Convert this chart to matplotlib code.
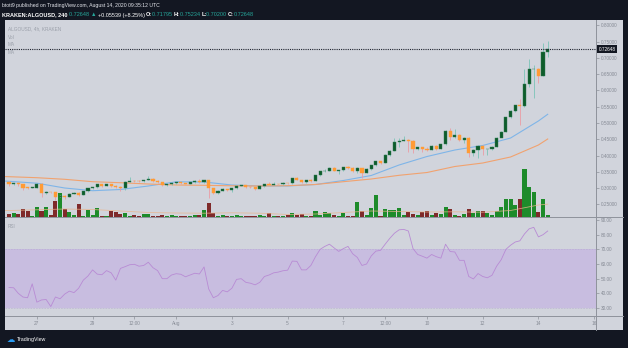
import numpy as np
import pandas as pd
import matplotlib
matplotlib.use("Agg")
import matplotlib.pyplot as plt
import matplotlib.dates as mdates
from matplotlib.patches import Rectangle
from matplotlib.lines import Line2D

plt.rcParams['font.family'] = ['Liberation Sans', 'DejaVu Sans']

# KRAKEN:ALGOUSD, 4h bars from 26 Jul 2020 00:00 UTC
bar_start = '2020-07-26 00:00'
first_open = 0.3185
closes = [0.3108, 0.3154, 0.3123, 0.3015, 0.3006, 0.3015, 0.3138, 0.2846, 0.2877, 0.2868,
          0.2723, 0.2769, 0.2738, 0.2831, 0.2846, 0.2800, 0.2908, 0.2985, 0.3031, 0.3108,
          0.3077, 0.3123, 0.3077, 0.3046, 0.2985, 0.3200, 0.3221, 0.3215, 0.3206, 0.3246,
          0.3292, 0.3224, 0.3185, 0.3092, 0.3108, 0.3163, 0.3175, 0.3144, 0.3138, 0.3185,
          0.3209, 0.3175, 0.3246, 0.2991, 0.2846, 0.2923, 0.2960, 0.2929, 0.2991, 0.3071,
          0.3083, 0.3040, 0.3021, 0.2978, 0.3055, 0.3123, 0.3104, 0.3123, 0.3108, 0.3163,
          0.3144, 0.3308, 0.3246, 0.3185, 0.3237, 0.3224, 0.3400, 0.3523, 0.3538, 0.3621,
          0.3538, 0.3554, 0.3637, 0.3606, 0.3532, 0.3606, 0.3470, 0.3594, 0.3708, 0.3831,
          0.3775, 0.4015, 0.4148, 0.4425, 0.4446, 0.4477, 0.4446, 0.4185, 0.4262, 0.4215,
          0.4169, 0.4292, 0.4200, 0.4345, 0.4763, 0.4579, 0.4631, 0.4477, 0.4538, 0.4086,
          0.4169, 0.4292, 0.4191, 0.4200, 0.4271, 0.4529, 0.4723, 0.5176, 0.5369, 0.5545,
          0.5529, 0.6200, 0.6662, 0.6671, 0.6446, 0.71795, 0.72648]
highs = [0.3215, 0.3169, 0.3185, 0.3138, 0.3031, 0.3031, 0.3154, 0.3154, 0.2908, 0.2892,
         0.2892, 0.2800, 0.2785, 0.2846, 0.2862, 0.2862, 0.2923, 0.3000, 0.3046, 0.3123,
         0.3138, 0.3138, 0.3138, 0.3092, 0.3062, 0.3215, 0.3348, 0.3246, 0.3231, 0.3261,
         0.3378, 0.3308, 0.3246, 0.3200, 0.3138, 0.3185, 0.3200, 0.3200, 0.3169, 0.3200,
         0.3231, 0.3268, 0.3261, 0.3261, 0.3000, 0.2938, 0.2985, 0.2969, 0.3000, 0.3083,
         0.3098, 0.3092, 0.3055, 0.3037, 0.3062, 0.3138, 0.3194, 0.3185, 0.3138, 0.3178,
         0.3169, 0.3323, 0.3348, 0.3246, 0.3246, 0.3277, 0.3415, 0.3538, 0.3594, 0.3655,
         0.3637, 0.3569, 0.3661, 0.3677, 0.3631, 0.3655, 0.3625, 0.3606, 0.3723, 0.3846,
         0.3846, 0.4031, 0.4169, 0.4529, 0.4548, 0.4609, 0.4508, 0.4477, 0.4277, 0.4277,
         0.4277, 0.4308, 0.4323, 0.4369, 0.4785, 0.4837, 0.4825, 0.4677, 0.4569, 0.4560,
         0.4185, 0.4323, 0.4308, 0.4215, 0.4292, 0.4554, 0.4754, 0.5200, 0.5400, 0.5569,
         0.5729, 0.6652, 0.6969, 0.6785, 0.6692, 0.7460, 0.75234]
lows = [0.3062, 0.3092, 0.3062, 0.2938, 0.2969, 0.2985, 0.3000, 0.2723, 0.2831, 0.2846,
        0.2631, 0.2708, 0.2677, 0.2723, 0.2815, 0.2754, 0.2785, 0.2892, 0.2969, 0.3015,
        0.3046, 0.3062, 0.3046, 0.3015, 0.2923, 0.2954, 0.3185, 0.3185, 0.3185, 0.3185,
        0.3231, 0.3200, 0.3154, 0.3062, 0.3077, 0.3092, 0.3138, 0.3123, 0.3108, 0.3123,
        0.3154, 0.3160, 0.3154, 0.2683, 0.2815, 0.2831, 0.2914, 0.2908, 0.2892, 0.2975,
        0.3052, 0.3015, 0.3000, 0.2954, 0.2969, 0.3037, 0.3092, 0.3092, 0.3083, 0.3098,
        0.3123, 0.3129, 0.3231, 0.3169, 0.3169, 0.3200, 0.3215, 0.3384, 0.3507, 0.3525,
        0.3523, 0.3431, 0.3538, 0.3584, 0.3507, 0.3470, 0.3298, 0.3461, 0.3569, 0.3692,
        0.3754, 0.3769, 0.4000, 0.4138, 0.4271, 0.4431, 0.4117, 0.4068, 0.4169, 0.4123,
        0.4138, 0.4154, 0.4169, 0.4185, 0.4338, 0.4477, 0.4529, 0.4446, 0.4385, 0.3963,
        0.3985, 0.3914, 0.4015, 0.4015, 0.4154, 0.4262, 0.4585, 0.4723, 0.5145, 0.5339,
        0.4939, 0.5502, 0.6117, 0.5760, 0.6222, 0.6431, 0.70200]
# volume, millions ALGO
volumes = [0.30, 0.37, 0.35, 0.80, 0.63, 0.13, 0.97, 0.63, 1.03, 0.23,
           1.57, 2.37, 0.80, 0.53, 0.20, 1.30, 0.13, 0.70, 0.17, 0.87,
           0.07, 0.10, 0.63, 0.47, 0.30, 0.37, 0.13, 0.17, 0.10, 0.27,
           0.27, 0.13, 0.10, 0.20, 0.10, 0.23, 0.07, 0.08, 0.08, 0.10,
           0.23, 0.20, 0.70, 1.40, 0.40, 0.13, 0.17, 0.08, 0.13, 0.20,
           0.13, 0.08, 0.08, 0.08, 0.23, 0.10, 0.37, 0.10, 0.10, 0.12,
           0.20, 0.37, 0.17, 0.30, 0.13, 0.13, 0.57, 0.17, 0.47, 0.40,
           0.17, 0.10, 0.40, 0.10, 0.13, 1.50, 0.63, 0.17, 0.90, 2.20,
           0.10, 0.83, 0.70, 0.70, 0.90, 0.17, 0.47, 0.30, 0.17, 0.50,
           0.63, 0.17, 0.37, 0.30, 1.03, 0.77, 0.17, 0.10, 0.30, 0.80,
           0.37, 0.57, 0.57, 0.37, 0.20, 0.57, 0.97, 1.83, 1.83, 1.20,
           1.83, 4.83, 2.97, 2.47, 0.50, 1.77, 0.17]
rsi = [44.0, 43.8, 40.0, 37.5, 37.0, 46.5, 34.0, 35.5, 35.8, 31.0,
       37.5, 36.3, 39.5, 41.5, 40.5, 43.5, 49.0, 51.8, 56.0, 53.1,
       52.7, 55.5, 54.0, 49.0, 57.0, 58.2, 59.5, 59.8, 58.5, 59.0,
       61.2, 57.5, 55.5, 50.0, 50.0, 52.5, 53.4, 53.0, 51.3, 52.5,
       53.7, 53.2, 58.0, 43.0, 37.0, 38.5, 42.0, 41.0, 43.5, 49.5,
       50.0, 47.5, 46.9, 45.8, 47.5, 51.5, 52.5, 54.0, 54.5, 55.4,
       55.8, 62.0, 61.8, 56.0, 56.0, 59.0, 65.0, 70.0, 72.0, 73.5,
       71.0, 68.6, 70.5, 72.0, 67.0, 64.5, 59.0, 60.0, 65.5, 68.8,
       69.3, 73.5, 77.5, 81.0, 83.3, 83.6, 82.5, 70.5, 66.5, 65.3,
       64.0, 66.5, 65.0, 64.0, 73.5, 68.5, 68.2, 62.5, 62.5, 51.5,
       49.8, 53.5, 51.5, 50.6, 52.3, 58.5, 63.0, 70.0, 72.8, 75.0,
       75.8, 80.5, 84.0, 85.0, 78.5, 80.0, 82.5]

# moving averages, read once a day at 00:00 UTC (plus both chart edges)
ma_times = (['2020-07-25 20:00']
            + [d.strftime('%Y-%m-%d %H:%M') for d in pd.date_range('2020-07-26', '2020-08-14', freq='D')]
            + ['2020-08-14 08:00'])
ma_fast = [0.3215, 0.3206, 0.3148, 0.3000, 0.2917, 0.2954, 0.3062, 0.3191, 0.3185, 0.3092, 0.3062,
           0.3062, 0.3108, 0.3231, 0.3385, 0.3708, 0.3969, 0.4169, 0.4308, 0.4538, 0.5062, 0.5268]
ma_slow = [0.3352, 0.3348, 0.3317, 0.3268, 0.3194, 0.3163, 0.3123, 0.3092, 0.3083, 0.3068, 0.3062,
           0.3071, 0.3108, 0.3194, 0.3277, 0.3391, 0.3477, 0.3662, 0.3769, 0.3954, 0.4323, 0.4508]
vol_ma = [0.65, 0.65, 0.72, 0.80, 0.75, 0.60, 0.45, 0.40, 0.38, 0.42, 0.38,
          0.25, 0.30, 0.45, 0.60, 0.55, 0.50, 0.52, 0.48, 0.65, 1.20, 1.28]

last_price = 0.72648
price_ticks = [0.25, 0.30, 0.35, 0.40, 0.45, 0.50, 0.55, 0.60, 0.65, 0.70, 0.75, 0.80]
rsi_ticks = [30, 40, 50, 60, 70, 80, 90]
tick_times = ['2020-07-27 00:00', '2020-07-29 00:00', '2020-07-30 12:00', '2020-08-01 00:00',
              '2020-08-03 00:00', '2020-08-05 00:00', '2020-08-07 00:00', '2020-08-08 12:00',
              '2020-08-10 00:00', '2020-08-12 00:00', '2020-08-14 00:00', '2020-08-16 00:00']
tick_labels = ['27', '29', '12:00', 'Aug', '3', '5', '7', '12:00', '10', '12', '14', '16']

# colours
BG = '#131722'
PANEL = '#d1d4dc'
GRID = '#8e929b'
TXT = '#868b95'
UP_BODY, UP_WICK = '#0e5c2b', '#7cc4b8'
DN_BODY, DN_WICK = '#ff9b35', '#eb9ca4'
VOL_UP, VOL_DN = '#1d8b2a', '#7f2a2a'
TEAL = '#26a69a'

W, H = 628, 348
LBL = 3.4


def fx(px):
    return px / W


def fy(py):
    return 1 - py / H


def to_num(strings):
    return mdates.date2num(pd.to_datetime(strings, format='%Y-%m-%d %H:%M'))


fig = plt.figure(figsize=(W / 100, H / 100), dpi=100, facecolor=BG)
fig.patches.append(Rectangle((fx(5), fy(330)), fx(618), 310 / H, transform=fig.transFigure,
                             facecolor=PANEL, edgecolor='none', zorder=-5))
for ypx in (217, 316):
    fig.add_artist(Line2D([fx(5), fx(623)], [fy(ypx), fy(ypx)], color=GRID, lw=0.7, zorder=5))
fig.add_artist(Line2D([fx(596), fx(596)], [fy(20), fy(330)], color=GRID, lw=0.7, zorder=5))

times = pd.date_range(bar_start, periods=len(closes), freq='4h')
x = mdates.date2num(times)
o = np.r_[first_open, closes[:-1]]
c = np.array(closes)
up = c >= o
x0 = mdates.date2num(pd.Timestamp(bar_start))
xlim = (x0 - 0.86 / 6, x0 + 126.4 / 6)

main_rect = [fx(5), fy(217), fx(591), 197 / H]
ax_vol = fig.add_axes(main_rect, zorder=1)
ax = fig.add_axes(main_rect, zorder=2)
ax.patch.set_visible(False)
ax_vol.patch.set_visible(False)

# volume histogram + its MA at the bottom of the price pane
ax_vol.bar(x, volumes, width=0.145, color=np.where(up, VOL_UP, VOL_DN), linewidth=0)
ax_vol.plot(to_num(ma_times), vol_ma, color='#e9b48c', lw=0.6, alpha=0.8)
ax_vol.set_xlim(*xlim)
ax_vol.set_ylim(0, 19.7)
ax_vol.axis('off')

# candles
ax.vlines(x, lows, highs, colors=np.where(up, UP_WICK, DN_WICK), lw=0.6, zorder=2)
body_lo = np.minimum(o, c)
body_h = np.maximum(np.abs(c - o), 0.0012)
ax.bar(x, body_h, bottom=body_lo, width=0.113, color=np.where(up, UP_BODY, DN_BODY),
       edgecolor=np.where(up, '#2f7d55', DN_BODY), linewidth=0.3, zorder=3)

t_ma = to_num(ma_times)
ax.plot(t_ma, ma_fast, color='#7fb5e8', lw=0.8, zorder=1)
ax.plot(t_ma, ma_slow, color='#f1a26f', lw=0.8, zorder=1)
ax.axhline(last_price, color='#1e222d', lw=0.8, ls=(0, (1, 1)), zorder=4)

ax.set_xlim(*xlim)
ax.set_ylim(0.2108, 0.8169)
for s in ax.spines.values():
    s.set_visible(False)
ax.yaxis.tick_right()
ax.set_yticks(price_ticks)
ax.set_yticklabels([f'{v:.5f}' for v in price_ticks])
ax.tick_params(axis='y', length=2, width=0.5, color=GRID, pad=1.2, labelsize=LBL, labelcolor=TXT)
ax.tick_params(axis='x', bottom=False, labelbottom=False)
ax.annotate(f'{last_price:.5f}', xy=(1.0, last_price), xycoords=('axes fraction', 'data'),
            xytext=(2.0, 0), textcoords='offset points', va='center', ha='left',
            fontsize=LBL, color='white',
            bbox=dict(boxstyle='square,pad=0.3', fc=BG, ec='none'), annotation_clip=False)

# RSI pane
ax_rsi = fig.add_axes([fx(5), fy(316), fx(591), 99 / H], zorder=1)
ax_rsi.patch.set_visible(False)
ax_rsi.axhspan(30, 70, color='#c8bde0', lw=0)
for lvl in (30, 70):
    ax_rsi.axhline(lvl, color='#b7abd2', lw=0.4, ls=(0, (3, 2)))
ax_rsi.plot(x, rsi, color='#b88bd4', lw=0.6)
ax_rsi.set_ylim(24.55, 92.05)
ax_rsi.set_xlim(*xlim)
for s in ax_rsi.spines.values():
    s.set_visible(False)
ax_rsi.yaxis.tick_right()
ax_rsi.set_yticks(rsi_ticks)
ax_rsi.set_yticklabels([f'{v:.2f}' for v in rsi_ticks])
ax_rsi.tick_params(axis='y', length=2, width=0.5, color=GRID, pad=1.2, labelsize=LBL, labelcolor=TXT)
ax_rsi.set_xticks(to_num(tick_times))
ax_rsi.set_xticklabels(tick_labels)
ax_rsi.tick_params(axis='x', length=2, width=0.5, color=GRID, pad=1.8, labelsize=LBL, labelcolor=TXT)

# pane captions
for txt, ypx in (('ALGOUSD, 4h, KRAKEN', 29), ('Vol', 37.5), ('MA', 44.5), ('MA', 52), ('RSI', 226)):
    fig.text(fx(8), fy(ypx), txt, color='#9ba0aa', fontsize=3.4, va='center')

# header
fig.text(fx(2), fy(6), 'btott9 published on TradingView.com, August 14, 2020 09:35:12 UTC',
         color='#e6e8ee', fontsize=3.7, va='center')
parts = [('KRAKEN:ALGOUSD, 240 ', 'white', 'bold'), ('0.72648 ', TEAL, 'normal'),
         ('\u25b2 ', TEAL, 'normal'), ('+0.05539 (+8.25%) ', 'white', 'normal'),
         ('O:', 'white', 'bold'), ('0.71795 ', TEAL, 'normal'),
         ('H:', 'white', 'bold'), ('0.75234 ', TEAL, 'normal'),
         ('L:', 'white', 'bold'), ('0.70200 ', TEAL, 'normal'),
         ('C:', 'white', 'bold'), ('0.72648', TEAL, 'normal')]
prev = None
for txt, col, wt in parts:
    if prev is None:
        prev = fig.text(fx(2), fy(15), txt, color=col, fontsize=4.0, fontweight=wt,
                        va='center')
    else:
        prev = ax.annotate(txt, xy=(1, 0), xycoords=prev, va='bottom', ha='left',
                           color=col, fontsize=4.0, fontweight=wt, annotation_clip=False)

# footer
fig.text(fx(7), fy(339), '\u2601', color='#2a9df4', fontsize=6, va='center',
         family='DejaVu Sans')
fig.text(fx(17), fy(339), 'TradingView', color='white', fontsize=3.8, va='center')

fig.savefig('out.png', dpi=100, facecolor=BG)
